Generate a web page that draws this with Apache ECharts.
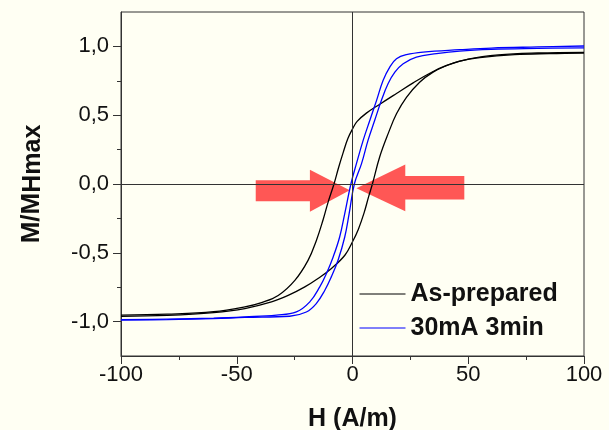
<!DOCTYPE html>
<html>
<head>
<meta charset="utf-8">
<script src="https://cdn.jsdelivr.net/npm/echarts@6/dist/echarts.min.js"></script>
<style>
  html, body { margin: 0; padding: 0; background: #fffff3; }
  #chart { width: 609px; height: 430px; }
</style>
</head>
<body>
<div id="chart"></div>
<script>
// Hysteresis loops: normalised magnetisation M/M_Hmax versus field H (A/m).
// Each loop is stored as its two branches, both listed in increasing H.

// As-prepared, upper (descending-field) branch
const asPrepDownH = [-100, -80, -60, -46.5, -39.3, -32.1, -24.9, -19.2, -15.6, -12.7, -10.5, -8, -6, -4, -2, 0, 2, 6, 11.8, 19, 26.2, 33.4, 40.6, 50, 63, 80, 100];
const asPrepDownM = [-0.953, -0.946, -0.928, -0.893, -0.862, -0.81, -0.70, -0.555, -0.41, -0.26, -0.13, 0.0, 0.12, 0.23, 0.33, 0.40, 0.455, 0.515, 0.58, 0.658, 0.735, 0.805, 0.862, 0.908, 0.938, 0.952, 0.957];

// As-prepared, lower (ascending-field) branch
const asPrepUpH = [-100, -80, -60, -46.5, -35, -27.8, -20.6, -14.9, -9.1, -3.3, 0, 2.5, 5, 7, 8.6, 11.8, 15.4, 19, 23.3, 29, 34.8, 40.6, 46.3, 55, 70, 85, 100];
const asPrepUpM = [-0.962, -0.955, -0.935, -0.905, -0.857, -0.81, -0.748, -0.687, -0.614, -0.518, -0.42, -0.33, -0.21, -0.09, 0.0, 0.2, 0.366, 0.51, 0.63, 0.74, 0.813, 0.86, 0.893, 0.918, 0.94, 0.948, 0.952];

// 30mA 3min, upper branch
const treatedDownH = [-100, -80, -60, -46.5, -32.85, -24.25, -18.45, -14.15, -11.25, -8.35, -5.55, -3.35, -0.7, 1.7, 4.6, 7.5, 10.4, 13.2, 16.1, 19, 23.3, 30.5, 46.3, 60, 80, 100];
const treatedDownM = [-0.985, -0.982, -0.975, -0.966, -0.953, -0.93, -0.857, -0.748, -0.65, -0.53, -0.385, -0.215, 0.0, 0.148, 0.317, 0.463, 0.608, 0.753, 0.85, 0.91, 0.94, 0.959, 0.976, 0.988, 0.996, 1.003];

// 30mA 3min, lower branch
const treatedUpH = [-100, -80, -60, -46.5, -27.15, -19.95, -15.65, -11.95, -9.15, -6.25, -3.35, -1.45, 0.8, 3.9, 6.7, 9.6, 12.5, 15.4, 18.3, 21.9, 27.6, 36.3, 46.3, 60, 80, 100];
const treatedUpM = [-0.99, -0.985, -0.978, -0.97, -0.961, -0.93, -0.869, -0.772, -0.675, -0.554, -0.385, -0.215, 0.0, 0.148, 0.317, 0.463, 0.608, 0.73, 0.813, 0.874, 0.922, 0.947, 0.966, 0.978, 0.985, 0.99];

const seriesNames = ['As-prepared', '30mA 3min'];
const yMajorTicks = [-1, -0.5, 0, 0.5, 1];
const yMinorTicks = [-0.75, -0.25, 0.25, 0.75];

// Two red arrows pointing at the coercive fields (in axis units)
const arrowTailH = [-41.8, 48.3];
const arrowBaseH = [-18.4, 22.8];
const arrowTipH = [-1.2, 1.7];
const arrowShaftTopM = [0.027, 0.058];
const arrowShaftBottomM = [-0.126, -0.113];
const arrowHeadTopM = [0.103, 0.141];
const arrowHeadBottomM = [-0.202, -0.198];
const arrowTipM = [-0.046, -0.03];

const FONT = "'Liberation Sans', Arial, Helvetica, sans-serif";
const INK = '#111';

const zip = (xs, ys) => xs.map((x, i) => [x, ys[i]]);

const arrowData = arrowTailH.map((t, i) => [
  t, arrowBaseH[i], arrowTipH[i],
  arrowShaftTopM[i], arrowShaftBottomM[i], arrowHeadTopM[i], arrowHeadBottomM[i], arrowTipM[i]
]);

const loopLine = (name, color, data, extra) => Object.assign({
  type: 'line',
  name: name,
  data: data,
  symbol: 'none',
  smooth: 0.4,
  z: 3,
  color: color,
  lineStyle: { color: color, width: 1.3 },
  animation: false,
  silent: true
}, extra || {});

const chart = echarts.init(document.getElementById('chart'), null, { renderer: 'canvas' });

chart.setOption({
  backgroundColor: '#fffff3',
  animation: false,
  textStyle: { fontFamily: FONT },
  grid: {
    left: 121, right: 25, top: 12, bottom: 74,
    outerBoundsMode: 'none',
    containLabel: false,
    show: true, borderColor: '#333', borderWidth: 1, backgroundColor: 'transparent'
  },
  legend: {
    orient: 'vertical',
    left: 354,
    top: 275,
    itemWidth: 46,
    itemHeight: 14,
    itemGap: 6,
    selectedMode: false,
    data: seriesNames,
    itemStyle: { opacity: 0 },
    lineStyle: { width: 1 },
    textStyle: { fontFamily: FONT, fontSize: 25, fontWeight: 'bold', color: INK, lineHeight: 28 }
  },
  xAxis: {
    type: 'value',
    min: -100, max: 100, interval: 50,
    name: 'H (A/m)',
    nameLocation: 'middle',
    nameGap: 51,
    nameTextStyle: { fontFamily: FONT, fontSize: 25, fontWeight: 'bold', color: INK },
    axisLine: { show: true, onZero: false, lineStyle: { color: '#333', width: 1 } },
    axisTick: { show: true, length: 8, lineStyle: { color: '#333' } },
    minorTick: { show: true, splitNumber: 2, length: 4, lineStyle: { color: '#333' } },
    axisLabel: { fontFamily: FONT, fontSize: 22, color: INK, margin: 8 },
    splitLine: { show: false }
  },
  yAxis: [{
    type: 'value',
    min: -1.25, max: 1.25,
    position: 'left',
    name: '{a|M/M}{b|Hmax}',
    nameLocation: 'middle',
    nameRotate: 90,
    nameGap: 75,
    nameTextStyle: {
      rich: {
        a: { fontFamily: FONT, fontSize: 26, fontWeight: 'bold', color: INK },
        b: { fontFamily: FONT, fontSize: 25, fontWeight: 'bold', color: INK, padding: [4, 0, 0, 0] }
      }
    },
    axisLine: { show: true, onZero: false, lineStyle: { color: '#333', width: 1 } },
    axisTick: { show: true, length: 8, customValues: yMajorTicks, lineStyle: { color: '#333' } },
    axisLabel: {
      customValues: yMajorTicks,
      fontFamily: FONT, fontSize: 22, color: INK, margin: 12,
      formatter: v => v.toFixed(1).replace('.', ',')
    },
    splitLine: { show: false }
  }, {
    type: 'value',
    min: -1.25, max: 1.25,
    position: 'left',
    offset: 0,
    axisLine: { show: false, onZero: false },
    axisTick: { show: true, length: 4, customValues: yMinorTicks, lineStyle: { color: '#333' } },
    axisLabel: { show: false },
    splitLine: { show: false }
  }],
  series: [
    {
      type: 'custom',
      name: 'arrows',
      z: 1,
      silent: true,
      animation: false,
      data: arrowData,
      encode: { x: [0, 1, 2], y: [3, 4, 5, 6, 7] },
      renderItem: function (params, api) {
        const tail = api.value(0), base = api.value(1), tip = api.value(2);
        const sTop = api.value(3), sBot = api.value(4), hTop = api.value(5), hBot = api.value(6), tipM = api.value(7);
        const pts = [
          [tail, sTop], [base, sTop], [base, hTop], [tip, tipM],
          [base, hBot], [base, sBot], [tail, sBot]
        ].map(p => api.coord(p));
        return {
          type: 'polygon',
          shape: { points: pts },
          style: { fill: 'rgba(255, 40, 40, 0.78)', stroke: null }
        };
      }
    },
    loopLine(seriesNames[0], '#000000', zip(asPrepDownH, asPrepDownM), {
      markLine: {
        silent: true,
        symbol: 'none',
        label: { show: false },
        lineStyle: { color: '#333', width: 1, type: 'solid' },
        data: [{ xAxis: 0 }, { yAxis: 0 }],
        animation: false
      }
    }),
    loopLine(seriesNames[0], '#000000', zip(asPrepUpH, asPrepUpM)),
    loopLine(seriesNames[1], '#0000ff', zip(treatedDownH, treatedDownM)),
    loopLine(seriesNames[1], '#0000ff', zip(treatedUpH, treatedUpM))
  ]
});
</script>
</body>
</html>
